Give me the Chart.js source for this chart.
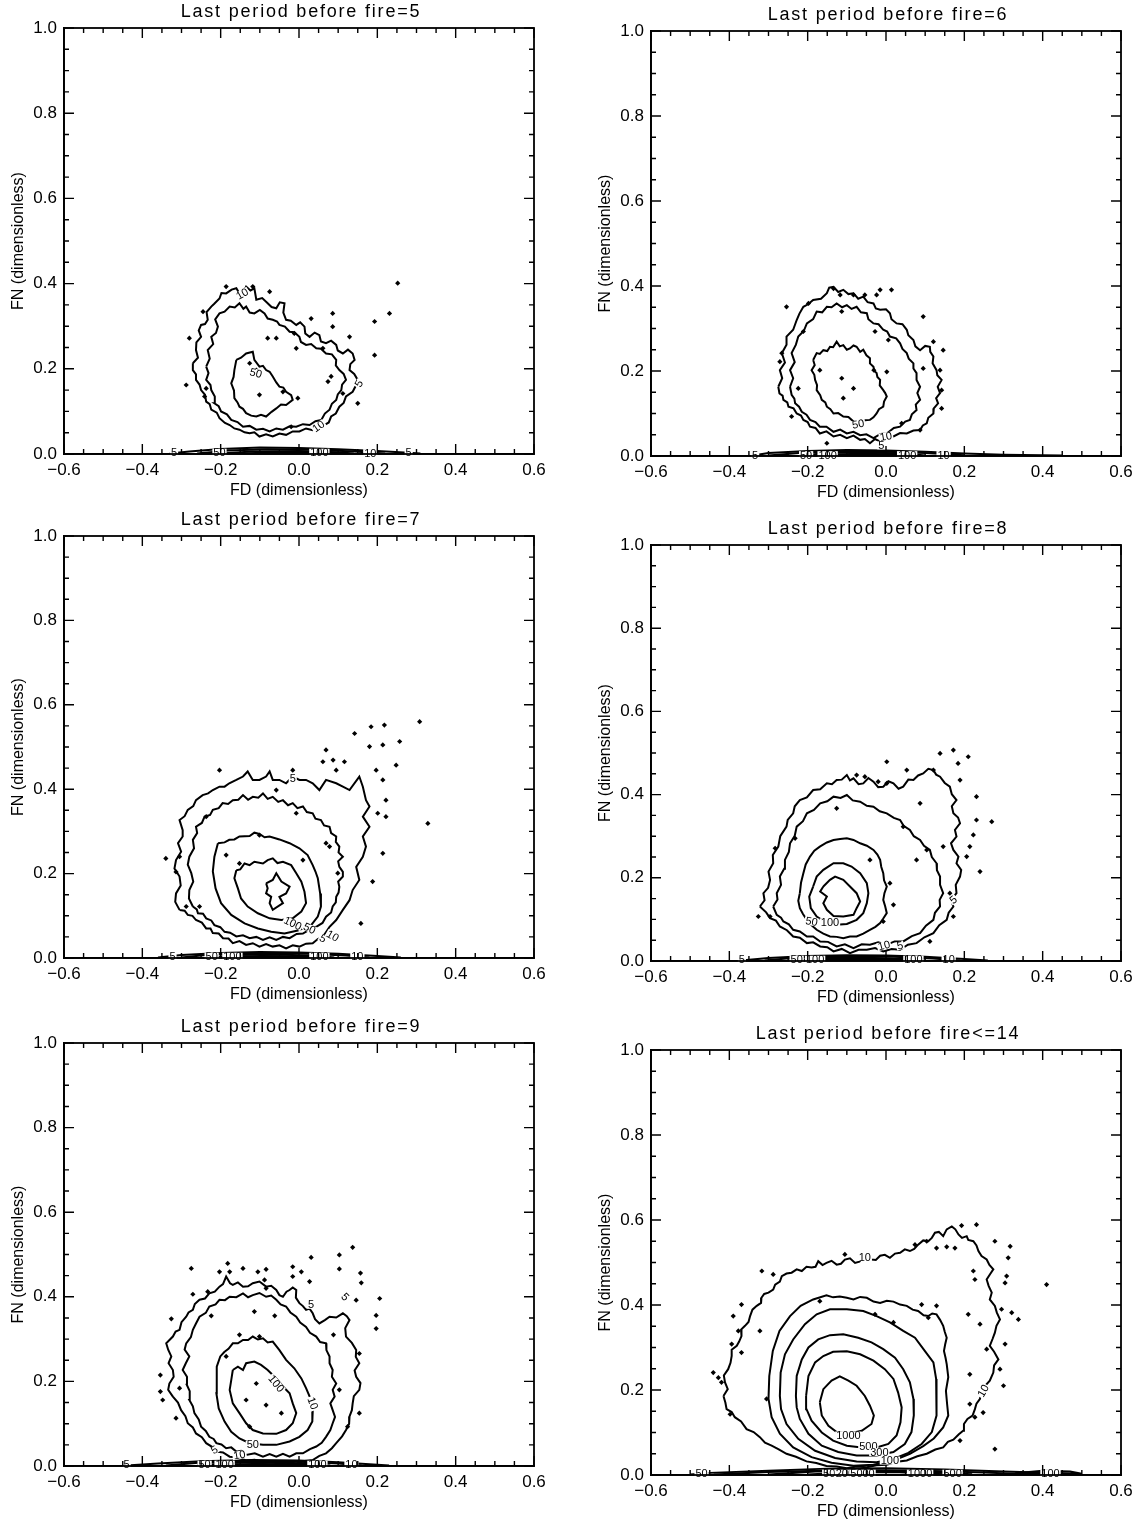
<!DOCTYPE html>
<html>
<head>
<meta charset="utf-8">
<script src="https://cdn.jsdelivr.net/npm/chart.js@4.4.1/dist/chart.umd.min.js"></script>
<style>
  html, body { margin: 0; padding: 0; background: #fff; }
  #page { position: relative; width: 1138px; height: 1520px; overflow: hidden; }
  #page canvas { position: absolute; }
</style>
</head>
<body>
<div id="page"></div>
<script>
//
// Contour plots of FN vs FD, one panel per "last period before fire"
//

// Axis ticks shared by all panels
const xMajor = [-0.6, -0.4, -0.2, 0.0, 0.2, 0.4, 0.6];
const xMinor = [-0.55, -0.5, -0.45, -0.35, -0.3, -0.25, -0.15, -0.1, -0.05, 0.05, 0.1, 0.15, 0.25, 0.3, 0.35, 0.45, 0.5, 0.55];
const yMajor = [0.0, 0.2, 0.4, 0.6, 0.8, 1.0];
const yMinor = [0.05, 0.1, 0.15, 0.25, 0.3, 0.35, 0.45, 0.5, 0.55, 0.65, 0.7, 0.75, 0.85, 0.9, 0.95];

const titles = ['Last period before fire=5', 'Last period before fire=6', 'Last period before fire=7',
                'Last period before fire=8', 'Last period before fire=9', 'Last period before fire<=14'];

// ---------- Panel 1 : fire=5
const p1c5 = [[-0.271,0.213],[-0.258,0.226],[-0.263,0.244],[-0.262,0.262],[-0.250,0.275],[-0.256,0.290],[-0.250,0.303],[-0.240,0.305],[-0.233,0.315],[-0.236,0.333],[-0.224,0.346],[-0.217,0.352],[-0.203,0.365],[-0.198,0.378],[-0.186,0.377],[-0.172,0.386],[-0.160,0.389],[-0.152,0.377],[-0.142,0.380],[-0.135,0.393],[-0.124,0.384],[-0.114,0.389],[-0.109,0.362],[-0.094,0.366],[-0.080,0.354],[-0.070,0.345],[-0.058,0.342],[-0.049,0.356],[-0.037,0.354],[-0.040,0.332],[-0.033,0.315],[-0.021,0.313],[-0.007,0.303],[0.003,0.309],[0.014,0.299],[0.016,0.283],[0.027,0.275],[0.040,0.285],[0.052,0.279],[0.056,0.264],[0.069,0.260],[0.082,0.266],[0.095,0.256],[0.099,0.243],[0.112,0.236],[0.125,0.245],[0.137,0.236],[0.142,0.221],[0.131,0.211],[0.129,0.197],[0.141,0.188],[0.150,0.174],[0.145,0.160],[0.137,0.146],[0.120,0.135],[0.114,0.120],[0.103,0.111],[0.094,0.095],[0.082,0.088],[0.076,0.074],[0.065,0.068],[0.050,0.066],[0.035,0.056],[0.018,0.060],[0.001,0.053],[-0.016,0.053],[-0.033,0.045],[-0.050,0.048],[-0.067,0.041],[-0.084,0.046],[-0.101,0.041],[-0.114,0.051],[-0.126,0.049],[-0.139,0.051],[-0.152,0.057],[-0.165,0.060],[-0.177,0.068],[-0.189,0.073],[-0.203,0.084],[-0.210,0.097],[-0.224,0.104],[-0.228,0.117],[-0.237,0.123],[-0.240,0.139],[-0.250,0.150],[-0.254,0.163],[-0.263,0.174],[-0.263,0.187],[-0.271,0.197]];
const p1c10 = [[-0.237,0.205],[-0.228,0.224],[-0.233,0.244],[-0.219,0.258],[-0.224,0.275],[-0.212,0.284],[-0.207,0.299],[-0.214,0.316],[-0.203,0.330],[-0.190,0.334],[-0.177,0.346],[-0.164,0.344],[-0.152,0.354],[-0.142,0.341],[-0.135,0.346],[-0.126,0.332],[-0.114,0.330],[-0.100,0.338],[-0.088,0.330],[-0.080,0.318],[-0.067,0.315],[-0.056,0.311],[-0.050,0.303],[-0.036,0.299],[-0.024,0.287],[-0.012,0.286],[0.001,0.275],[0.005,0.263],[0.018,0.256],[0.031,0.258],[0.044,0.248],[0.056,0.247],[0.069,0.236],[0.084,0.234],[0.095,0.221],[0.094,0.208],[0.103,0.197],[0.114,0.188],[0.120,0.174],[0.110,0.163],[0.108,0.150],[0.099,0.140],[0.095,0.127],[0.084,0.118],[0.078,0.104],[0.066,0.095],[0.057,0.080],[0.042,0.077],[0.027,0.068],[0.010,0.070],[-0.007,0.064],[-0.024,0.065],[-0.041,0.057],[-0.058,0.060],[-0.075,0.053],[-0.092,0.059],[-0.109,0.057],[-0.126,0.066],[-0.143,0.064],[-0.157,0.075],[-0.173,0.080],[-0.184,0.093],[-0.199,0.100],[-0.205,0.112],[-0.216,0.119],[-0.215,0.135],[-0.224,0.150],[-0.226,0.162],[-0.237,0.174],[-0.231,0.190]];
const p1c50 = [[-0.160,0.221],[-0.148,0.226],[-0.135,0.236],[-0.118,0.240],[-0.114,0.221],[-0.101,0.205],[-0.092,0.207],[-0.084,0.197],[-0.075,0.193],[-0.067,0.182],[-0.058,0.168],[-0.050,0.158],[-0.040,0.156],[-0.033,0.146],[-0.020,0.138],[-0.016,0.127],[-0.033,0.115],[-0.046,0.116],[-0.058,0.107],[-0.070,0.099],[-0.084,0.088],[-0.097,0.092],[-0.109,0.088],[-0.122,0.090],[-0.135,0.096],[-0.143,0.106],[-0.152,0.111],[-0.157,0.121],[-0.165,0.131],[-0.166,0.149],[-0.173,0.166],[-0.167,0.181],[-0.165,0.197]];
const p1Band = [
  [[-0.33,0.001],[-0.28,0.006],[-0.20,0.012],[-0.10,0.015],[0.0,0.014],[0.10,0.011],[0.20,0.007],[0.28,0.003],[0.31,0.001]],
  [[-0.26,0.001],[-0.18,0.008],[-0.08,0.011],[0.04,0.010],[0.14,0.006],[0.22,0.001]],
  [[-0.20,0.001],[-0.12,0.006],[0.0,0.007],[0.10,0.004],[0.14,0.001]],
  [[-0.15,0.001],[-0.05,0.004],[0.06,0.003],[0.09,0.001]]
];
const p1Dots = [[-0.186,0.393],[-0.118,0.393],[-0.245,0.334],[-0.280,0.272],[-0.288,0.162],[-0.237,0.154],[-0.241,0.135],[-0.080,0.272],[-0.058,0.272],[-0.012,0.283],[-0.007,0.248],[0.031,0.318],[0.086,0.330],[0.061,0.248],[0.082,0.182],[0.074,0.170],[0.150,0.119],[-0.101,0.139],[-0.003,0.131],[-0.020,0.064],[0.193,0.311],[0.231,0.330],[0.252,0.401],[0.193,0.232],[0.129,0.275],[0.086,0.299],[-0.075,0.381],[-0.126,0.213],[-0.109,0.197],[-0.041,0.146],[0.112,0.142]];
const p1Labels = [['50',-0.11,0.19,-15],['10',0.05,0.065,35],['5',0.153,0.165,60],['10',-0.145,0.376,30],
  ['5',-0.319,0.003,0],['50',-0.203,0.003,0],['100',0.052,0.003,0],['10',0.182,0.002,0],['5',0.28,0.003,0]];

// ---------- Panel 2 : fire=6
const p2c5 = [[-0.275,0.163],[-0.265,0.183],[-0.271,0.202],[-0.258,0.220],[-0.266,0.242],[-0.254,0.262],[-0.254,0.281],[-0.237,0.297],[-0.228,0.320],[-0.221,0.335],[-0.211,0.351],[-0.199,0.357],[-0.186,0.367],[-0.166,0.370],[-0.151,0.383],[-0.145,0.396],[-0.134,0.398],[-0.122,0.386],[-0.109,0.391],[-0.096,0.381],[-0.083,0.383],[-0.071,0.370],[-0.058,0.375],[-0.047,0.362],[-0.032,0.359],[-0.026,0.347],[-0.015,0.344],[0.000,0.345],[0.010,0.336],[0.014,0.322],[0.027,0.312],[0.042,0.310],[0.053,0.297],[0.057,0.284],[0.070,0.273],[0.075,0.258],[0.087,0.249],[0.100,0.259],[0.112,0.257],[0.113,0.245],[0.121,0.234],[0.119,0.218],[0.129,0.202],[0.131,0.190],[0.142,0.179],[0.132,0.163],[0.138,0.148],[0.128,0.136],[0.133,0.124],[0.122,0.112],[0.121,0.100],[0.108,0.090],[0.104,0.077],[0.094,0.072],[0.087,0.061],[0.070,0.060],[0.053,0.053],[0.036,0.054],[0.019,0.046],[0.002,0.045],[-0.015,0.034],[-0.028,0.040],[-0.041,0.030],[-0.054,0.040],[-0.066,0.038],[-0.083,0.048],[-0.100,0.042],[-0.117,0.050],[-0.134,0.046],[-0.152,0.058],[-0.169,0.053],[-0.180,0.066],[-0.194,0.069],[-0.200,0.080],[-0.211,0.085],[-0.217,0.095],[-0.228,0.100],[-0.236,0.112],[-0.249,0.116],[-0.252,0.126],[-0.262,0.132],[-0.264,0.142],[-0.272,0.147]];
const p2c10 = [[-0.245,0.163],[-0.237,0.183],[-0.245,0.202],[-0.233,0.221],[-0.241,0.242],[-0.230,0.262],[-0.224,0.281],[-0.210,0.294],[-0.202,0.312],[-0.186,0.322],[-0.177,0.340],[-0.163,0.338],[-0.151,0.351],[-0.139,0.350],[-0.126,0.359],[-0.112,0.350],[-0.100,0.355],[-0.088,0.346],[-0.075,0.351],[-0.064,0.338],[-0.049,0.336],[-0.045,0.322],[-0.032,0.312],[-0.019,0.310],[-0.007,0.297],[0.003,0.293],[0.010,0.281],[0.026,0.277],[0.036,0.265],[0.042,0.252],[0.053,0.242],[0.058,0.229],[0.070,0.218],[0.070,0.206],[0.078,0.195],[0.078,0.179],[0.087,0.163],[0.080,0.148],[0.087,0.132],[0.076,0.121],[0.078,0.108],[0.066,0.098],[0.061,0.085],[0.049,0.081],[0.036,0.069],[0.020,0.066],[0.002,0.053],[-0.014,0.052],[-0.032,0.042],[-0.050,0.051],[-0.066,0.049],[-0.083,0.057],[-0.100,0.053],[-0.117,0.062],[-0.134,0.057],[-0.152,0.069],[-0.169,0.069],[-0.180,0.080],[-0.194,0.085],[-0.203,0.097],[-0.215,0.104],[-0.222,0.116],[-0.232,0.124],[-0.234,0.135],[-0.241,0.144]];
const p2c50 = [[-0.186,0.226],[-0.177,0.242],[-0.169,0.240],[-0.160,0.249],[-0.150,0.247],[-0.143,0.257],[-0.135,0.256],[-0.126,0.269],[-0.118,0.258],[-0.109,0.261],[-0.100,0.250],[-0.092,0.253],[-0.083,0.260],[-0.075,0.257],[-0.066,0.245],[-0.058,0.250],[-0.050,0.237],[-0.041,0.230],[-0.041,0.218],[-0.032,0.210],[-0.030,0.200],[-0.024,0.195],[-0.022,0.186],[-0.015,0.179],[-0.016,0.166],[-0.007,0.155],[-0.002,0.148],[0.002,0.140],[-0.005,0.128],[-0.007,0.116],[-0.018,0.110],[-0.024,0.100],[-0.032,0.091],[-0.041,0.085],[-0.054,0.084],[-0.066,0.077],[-0.083,0.081],[-0.096,0.092],[-0.109,0.093],[-0.122,0.101],[-0.134,0.100],[-0.142,0.110],[-0.151,0.116],[-0.155,0.126],[-0.164,0.132],[-0.168,0.143],[-0.177,0.155],[-0.176,0.167],[-0.181,0.179],[-0.183,0.191],[-0.190,0.202],[-0.182,0.214]];
const p2Band = [
  [[-0.34,0.001],[-0.30,0.007],[-0.20,0.012],[-0.10,0.014],[0.0,0.013],[0.10,0.010],[0.20,0.006],[0.30,0.003],[0.45,0.001]],
  [[-0.30,0.001],[-0.20,0.009],[-0.10,0.011],[0.0,0.010],[0.10,0.007],[0.20,0.002]],
  [[-0.22,0.001],[-0.15,0.007],[-0.05,0.008],[0.05,0.006],[0.10,0.001]],
  [[-0.16,0.001],[-0.08,0.005],[0.02,0.004],[0.06,0.001]]
];
const p2Dots = [[-0.254,0.351],[-0.015,0.391],[0.014,0.391],[-0.024,0.379],[-0.054,0.379],[-0.117,0.379],[-0.134,0.394],[-0.083,0.379],[-0.198,0.359],[0.095,0.328],[0.121,0.269],[0.146,0.249],[0.138,0.202],[0.142,0.155],[0.142,0.112],[-0.266,0.242],[-0.271,0.222],[-0.241,0.093],[-0.224,0.159],[-0.169,0.202],[-0.113,0.183],[0.002,0.198],[-0.031,0.202],[-0.083,0.159],[-0.109,0.136],[0.040,0.077],[0.087,0.061],[-0.151,0.030],[-0.113,0.340],[-0.028,0.293],[0.006,0.273],[-0.211,0.293],[0.095,0.206]];
const p2Labels = [['50',-0.071,0.075,10],['10',0.0,0.046,10],['5',-0.012,0.025,0],
  ['5',-0.334,0.002,0],['50',-0.204,0.002,0],['100',-0.149,0.002,0],['100',0.054,0.002,0],['10',0.147,0.002,0]];

// ---------- Panel 3 : fire=7
const p3c5 = [[-0.305,0.114],[-0.316,0.133],[-0.314,0.153],[-0.302,0.172],[-0.305,0.193],[-0.318,0.212],[-0.314,0.232],[-0.301,0.252],[-0.309,0.272],[-0.297,0.288],[-0.297,0.303],[-0.305,0.327],[-0.292,0.336],[-0.284,0.351],[-0.270,0.360],[-0.263,0.374],[-0.246,0.386],[-0.232,0.390],[-0.220,0.398],[-0.203,0.406],[-0.190,0.406],[-0.178,0.414],[-0.160,0.422],[-0.143,0.430],[-0.131,0.442],[-0.118,0.422],[-0.101,0.422],[-0.084,0.430],[-0.075,0.442],[-0.067,0.422],[-0.050,0.422],[-0.033,0.414],[-0.016,0.430],[0.001,0.422],[0.018,0.422],[0.035,0.414],[0.052,0.398],[0.069,0.422],[0.095,0.414],[0.112,0.406],[0.129,0.398],[0.154,0.430],[0.163,0.406],[0.171,0.374],[0.180,0.359],[0.163,0.335],[0.180,0.311],[0.163,0.288],[0.171,0.264],[0.163,0.240],[0.146,0.216],[0.154,0.185],[0.137,0.161],[0.129,0.137],[0.112,0.114],[0.095,0.090],[0.078,0.074],[0.061,0.050],[0.048,0.045],[0.035,0.035],[0.018,0.034],[0.001,0.027],[-0.016,0.030],[-0.033,0.023],[-0.050,0.030],[-0.067,0.027],[-0.084,0.033],[-0.101,0.027],[-0.118,0.035],[-0.135,0.031],[-0.152,0.040],[-0.169,0.035],[-0.180,0.046],[-0.194,0.047],[-0.205,0.058],[-0.220,0.059],[-0.226,0.070],[-0.237,0.070],[-0.248,0.084],[-0.263,0.090],[-0.272,0.100],[-0.284,0.102],[-0.292,0.112]];
const p3c10 = [[-0.271,0.122],[-0.281,0.141],[-0.280,0.161],[-0.270,0.181],[-0.275,0.201],[-0.284,0.221],[-0.280,0.240],[-0.268,0.260],[-0.271,0.280],[-0.260,0.296],[-0.263,0.311],[-0.248,0.320],[-0.241,0.335],[-0.227,0.339],[-0.220,0.351],[-0.205,0.355],[-0.195,0.367],[-0.181,0.365],[-0.169,0.374],[-0.155,0.375],[-0.143,0.386],[-0.130,0.375],[-0.118,0.382],[-0.104,0.380],[-0.092,0.390],[-0.080,0.377],[-0.067,0.382],[-0.053,0.370],[-0.041,0.374],[-0.028,0.362],[-0.016,0.367],[-0.004,0.355],[0.010,0.359],[0.020,0.346],[0.035,0.343],[0.042,0.330],[0.056,0.327],[0.064,0.314],[0.078,0.311],[0.082,0.296],[0.095,0.288],[0.094,0.275],[0.103,0.264],[0.101,0.250],[0.112,0.240],[0.100,0.229],[0.103,0.216],[0.112,0.204],[0.112,0.193],[0.100,0.181],[0.103,0.169],[0.101,0.155],[0.095,0.145],[0.094,0.132],[0.086,0.122],[0.082,0.108],[0.069,0.098],[0.060,0.083],[0.044,0.074],[0.028,0.068],[0.010,0.058],[-0.006,0.057],[-0.024,0.047],[-0.041,0.050],[-0.058,0.043],[-0.075,0.049],[-0.092,0.043],[-0.109,0.050],[-0.126,0.047],[-0.143,0.054],[-0.160,0.051],[-0.176,0.060],[-0.190,0.062],[-0.201,0.073],[-0.216,0.078],[-0.224,0.089],[-0.237,0.094],[-0.245,0.105],[-0.258,0.106],[-0.261,0.115]];
const p3c50 = [[-0.207,0.272],[-0.190,0.274],[-0.178,0.280],[-0.165,0.281],[-0.152,0.288],[-0.126,0.289],[-0.114,0.297],[-0.101,0.294],[-0.088,0.286],[-0.075,0.288],[-0.050,0.281],[-0.024,0.272],[0.001,0.260],[0.022,0.244],[0.035,0.220],[0.042,0.205],[0.048,0.189],[0.054,0.153],[0.056,0.122],[0.048,0.098],[0.031,0.078],[-0.003,0.065],[-0.037,0.058],[-0.071,0.062],[-0.105,0.070],[-0.139,0.082],[-0.173,0.102],[-0.199,0.130],[-0.213,0.165],[-0.220,0.205],[-0.216,0.240]];
const p3c100 = [[-0.160,0.208],[-0.150,0.210],[-0.139,0.224],[-0.126,0.220],[-0.114,0.228],[-0.092,0.224],[-0.080,0.232],[-0.067,0.236],[-0.055,0.225],[-0.041,0.228],[-0.020,0.220],[-0.007,0.201],[0.006,0.181],[0.014,0.157],[0.018,0.130],[0.006,0.110],[-0.016,0.094],[-0.045,0.090],[-0.075,0.094],[-0.105,0.106],[-0.131,0.122],[-0.148,0.141],[-0.156,0.165],[-0.165,0.189]];
const p3cCore = [[-0.084,0.177],[-0.067,0.185],[-0.058,0.201],[-0.045,0.181],[-0.024,0.169],[-0.033,0.153],[-0.050,0.145],[-0.041,0.130],[-0.067,0.114],[-0.075,0.130],[-0.071,0.145],[-0.084,0.153],[-0.080,0.165]];
const p3Band = [
  [[-0.36,0.001],[-0.30,0.007],[-0.20,0.012],[-0.10,0.014],[0.0,0.013],[0.10,0.010],[0.20,0.005],[0.26,0.001]],
  [[-0.30,0.001],[-0.22,0.009],[-0.10,0.011],[0.02,0.010],[0.12,0.006],[0.18,0.001]],
  [[-0.24,0.001],[-0.15,0.007],[-0.05,0.008],[0.05,0.005],[0.09,0.001]],
  [[-0.18,0.001],[-0.10,0.005],[0.0,0.004],[0.06,0.001]]
];
const p3Dots = [[-0.203,0.445],[-0.016,0.445],[0.218,0.552],[0.308,0.560],[0.184,0.548],[0.257,0.513],[0.142,0.532],[0.180,0.501],[0.069,0.493],[0.061,0.465],[0.087,0.469],[0.095,0.445],[0.116,0.465],[0.214,0.505],[0.197,0.445],[0.248,0.457],[0.214,0.422],[0.222,0.374],[0.201,0.343],[0.222,0.335],[0.329,0.319],[0.214,0.248],[0.188,0.181],[-0.237,0.335],[-0.007,0.343],[-0.058,0.398],[0.069,0.272],[0.078,0.264],[0.099,0.201],[-0.101,0.291],[-0.186,0.244],[-0.152,0.224],[-0.305,0.240],[-0.314,0.204],[-0.288,0.122],[-0.254,0.122],[0.158,0.082],[0.010,0.232],[-0.340,0.236]];
const p3Labels = [['100',-0.016,0.082,-25],['50',0.027,0.070,-25],['5',0.061,0.046,-30],['10',0.086,0.052,-30],['5',-0.016,0.426,0],
  ['5',-0.323,0.003,0],['50',-0.223,0.003,0],['100',-0.170,0.003,0],['100',0.052,0.003,0],['10',0.149,0.003,0]];

// ---------- Panel 4 : fire=8
const p4c5 = [[-0.322,0.131],[-0.310,0.146],[-0.313,0.163],[-0.301,0.176],[-0.296,0.195],[-0.300,0.215],[-0.288,0.235],[-0.289,0.255],[-0.275,0.275],[-0.270,0.300],[-0.254,0.323],[-0.251,0.339],[-0.237,0.355],[-0.233,0.372],[-0.220,0.387],[-0.202,0.393],[-0.186,0.411],[-0.168,0.413],[-0.151,0.427],[-0.138,0.425],[-0.126,0.435],[-0.113,0.436],[-0.100,0.447],[-0.092,0.434],[-0.083,0.439],[-0.070,0.425],[-0.058,0.427],[-0.045,0.440],[-0.032,0.431],[-0.020,0.418],[-0.007,0.419],[0.006,0.432],[0.019,0.427],[0.032,0.414],[0.044,0.419],[0.057,0.436],[0.070,0.435],[0.082,0.446],[0.095,0.451],[0.108,0.462],[0.121,0.459],[0.128,0.448],[0.138,0.443],[0.150,0.428],[0.163,0.419],[0.168,0.401],[0.180,0.387],[0.168,0.372],[0.172,0.355],[0.184,0.345],[0.189,0.331],[0.176,0.315],[0.180,0.299],[0.166,0.283],[0.172,0.267],[0.185,0.251],[0.180,0.235],[0.192,0.219],[0.189,0.203],[0.178,0.183],[0.180,0.163],[0.166,0.147],[0.172,0.131],[0.160,0.116],[0.155,0.099],[0.136,0.086],[0.121,0.067],[0.098,0.057],[0.078,0.043],[0.056,0.039],[0.036,0.027],[0.014,0.029],[-0.007,0.023],[-0.028,0.031],[-0.049,0.027],[-0.070,0.027],[-0.092,0.019],[-0.113,0.029],[-0.134,0.023],[-0.150,0.033],[-0.168,0.035],[-0.186,0.045],[-0.202,0.043],[-0.220,0.056],[-0.237,0.059],[-0.253,0.074],[-0.271,0.083],[-0.281,0.097],[-0.296,0.103],[-0.306,0.117]];
const p4c10 = [[-0.288,0.131],[-0.277,0.148],[-0.279,0.163],[-0.268,0.183],[-0.271,0.203],[-0.260,0.222],[-0.258,0.243],[-0.248,0.262],[-0.245,0.283],[-0.233,0.301],[-0.228,0.323],[-0.212,0.336],[-0.202,0.355],[-0.184,0.363],[-0.168,0.379],[-0.150,0.384],[-0.134,0.395],[-0.116,0.392],[-0.100,0.399],[-0.085,0.386],[-0.066,0.383],[-0.049,0.373],[-0.032,0.371],[-0.016,0.360],[0.002,0.355],[0.020,0.344],[0.036,0.339],[0.045,0.325],[0.061,0.315],[0.071,0.300],[0.087,0.291],[0.097,0.277],[0.112,0.267],[0.117,0.250],[0.129,0.235],[0.130,0.218],[0.138,0.203],[0.138,0.183],[0.146,0.163],[0.137,0.147],[0.138,0.131],[0.125,0.116],[0.121,0.099],[0.102,0.085],[0.087,0.067],[0.066,0.060],[0.044,0.047],[0.022,0.047],[0.002,0.039],[-0.020,0.045],[-0.041,0.039],[-0.062,0.040],[-0.083,0.031],[-0.105,0.040],[-0.126,0.035],[-0.148,0.046],[-0.168,0.047],[-0.186,0.059],[-0.202,0.059],[-0.220,0.071],[-0.237,0.075],[-0.248,0.088],[-0.262,0.095],[-0.268,0.104],[-0.279,0.111]];
const p4c20 = [[-0.220,0.163],[-0.217,0.188],[-0.211,0.211],[-0.205,0.232],[-0.194,0.251],[-0.183,0.265],[-0.169,0.275],[-0.151,0.285],[-0.134,0.291],[-0.117,0.293],[-0.100,0.295],[-0.083,0.291],[-0.066,0.283],[-0.049,0.277],[-0.032,0.267],[-0.022,0.256],[-0.015,0.243],[-0.012,0.226],[-0.007,0.211],[-0.005,0.194],[0.002,0.179],[-0.004,0.163],[-0.007,0.147],[-0.002,0.131],[0.002,0.115],[-0.007,0.102],[-0.015,0.091],[-0.027,0.082],[-0.041,0.075],[-0.058,0.066],[-0.075,0.059],[-0.092,0.059],[-0.109,0.055],[-0.126,0.058],[-0.143,0.059],[-0.160,0.066],[-0.177,0.075],[-0.190,0.086],[-0.202,0.099],[-0.212,0.113],[-0.220,0.127],[-0.224,0.145]];
const p4c50 = [[-0.186,0.179],[-0.177,0.203],[-0.160,0.219],[-0.134,0.235],[-0.109,0.235],[-0.088,0.227],[-0.066,0.211],[-0.049,0.187],[-0.045,0.163],[-0.049,0.139],[-0.058,0.115],[-0.075,0.099],[-0.100,0.089],[-0.126,0.087],[-0.151,0.091],[-0.177,0.107],[-0.192,0.127],[-0.196,0.155]];
const p4c100 = [[-0.160,0.179],[-0.143,0.195],[-0.130,0.203],[-0.109,0.195],[-0.092,0.179],[-0.075,0.163],[-0.066,0.143],[-0.075,0.127],[-0.083,0.111],[-0.109,0.107],[-0.134,0.108],[-0.151,0.123],[-0.160,0.139],[-0.151,0.155],[-0.168,0.167]];
const p4Band = [
  [[-0.37,0.001],[-0.30,0.007],[-0.20,0.012],[-0.10,0.014],[0.0,0.013],[0.10,0.010],[0.20,0.005],[0.26,0.001]],
  [[-0.31,0.001],[-0.22,0.009],[-0.10,0.011],[0.02,0.010],[0.12,0.006],[0.19,0.001]],
  [[-0.25,0.001],[-0.16,0.007],[-0.05,0.008],[0.05,0.005],[0.10,0.001]],
  [[-0.19,0.001],[-0.10,0.005],[0.0,0.004],[0.07,0.001]]
];
const p4Dots = [[0.138,0.499],[0.172,0.507],[0.002,0.479],[0.053,0.459],[0.121,0.459],[0.184,0.475],[0.210,0.491],[0.189,0.435],[0.231,0.395],[0.231,0.339],[0.270,0.335],[0.240,0.215],[0.214,0.275],[0.206,0.251],[-0.075,0.447],[-0.054,0.443],[-0.020,0.431],[0.002,0.427],[-0.126,0.367],[-0.232,0.295],[-0.283,0.271],[-0.041,0.243],[0.010,0.187],[0.019,0.135],[-0.007,0.095],[-0.326,0.107],[-0.296,0.107],[0.087,0.379],[0.044,0.323],[0.104,0.267],[0.078,0.243],[0.146,0.275],[0.163,0.163],[0.172,0.107],[0.112,0.047],[0.223,0.303]];
const p4Labels = [['50',-0.190,0.095,-10],['100',-0.143,0.093,0],['10',-0.005,0.037,15],['5',0.036,0.037,15],['5',0.172,0.147,40],
  ['5',-0.368,0.003,0],['50',-0.228,0.003,0],['100',-0.181,0.003,0],['100',0.070,0.003,0],['10',0.160,0.003,0]];

// ---------- Panel 5 : fire=9
const p5c5 = [[-0.322,0.164],[-0.334,0.180],[-0.331,0.195],[-0.320,0.211],[-0.322,0.227],[-0.333,0.243],[-0.326,0.259],[-0.334,0.275],[-0.339,0.290],[-0.322,0.306],[-0.315,0.318],[-0.305,0.322],[-0.300,0.340],[-0.288,0.353],[-0.282,0.363],[-0.271,0.369],[-0.266,0.383],[-0.254,0.393],[-0.240,0.396],[-0.229,0.408],[-0.215,0.412],[-0.203,0.424],[-0.194,0.430],[-0.186,0.448],[-0.176,0.432],[-0.169,0.428],[-0.156,0.434],[-0.143,0.424],[-0.130,0.425],[-0.118,0.432],[-0.101,0.436],[-0.084,0.424],[-0.071,0.426],[-0.058,0.416],[-0.050,0.404],[-0.041,0.400],[-0.032,0.412],[-0.024,0.416],[-0.016,0.422],[-0.007,0.416],[-0.008,0.398],[0.001,0.385],[0.010,0.378],[0.018,0.369],[0.027,0.372],[0.035,0.361],[0.041,0.347],[0.052,0.337],[0.066,0.345],[0.078,0.353],[0.095,0.351],[0.112,0.361],[0.122,0.354],[0.129,0.345],[0.118,0.326],[0.120,0.306],[0.135,0.291],[0.146,0.274],[0.145,0.258],[0.154,0.243],[0.142,0.226],[0.146,0.211],[0.157,0.196],[0.154,0.180],[0.140,0.165],[0.137,0.148],[0.135,0.132],[0.129,0.117],[0.128,0.100],[0.120,0.085],[0.110,0.070],[0.095,0.054],[0.084,0.042],[0.069,0.030],[0.052,0.024],[0.035,0.014],[0.014,0.012],[-0.007,0.006],[-0.028,0.009],[-0.050,0.005],[-0.071,0.010],[-0.092,0.008],[-0.113,0.015],[-0.135,0.013],[-0.156,0.020],[-0.177,0.022],[-0.194,0.032],[-0.211,0.034],[-0.223,0.046],[-0.237,0.054],[-0.248,0.068],[-0.263,0.077],[-0.271,0.091],[-0.284,0.101],[-0.290,0.118],[-0.301,0.132],[-0.309,0.150]];
const p5c10 = [[-0.288,0.195],[-0.286,0.211],[-0.297,0.227],[-0.289,0.243],[-0.280,0.259],[-0.292,0.275],[-0.288,0.290],[-0.276,0.305],[-0.271,0.322],[-0.263,0.337],[-0.254,0.353],[-0.238,0.362],[-0.229,0.377],[-0.213,0.382],[-0.203,0.393],[-0.189,0.392],[-0.177,0.400],[-0.160,0.399],[-0.143,0.408],[-0.130,0.399],[-0.118,0.404],[-0.101,0.409],[-0.084,0.400],[-0.071,0.403],[-0.058,0.393],[-0.047,0.382],[-0.033,0.377],[-0.022,0.363],[-0.007,0.353],[0.003,0.339],[0.018,0.329],[0.028,0.315],[0.044,0.306],[0.054,0.293],[0.069,0.290],[0.070,0.274],[0.078,0.259],[0.078,0.243],[0.086,0.227],[0.084,0.211],[0.095,0.195],[0.086,0.180],[0.091,0.164],[0.080,0.148],[0.086,0.132],[0.092,0.116],[0.086,0.101],[0.080,0.085],[0.069,0.069],[0.058,0.055],[0.044,0.046],[0.028,0.040],[0.010,0.030],[-0.007,0.030],[-0.024,0.022],[-0.041,0.029],[-0.058,0.022],[-0.075,0.028],[-0.092,0.022],[-0.113,0.030],[-0.135,0.026],[-0.148,0.036],[-0.160,0.034],[-0.173,0.044],[-0.186,0.042],[-0.198,0.051],[-0.211,0.054],[-0.218,0.064],[-0.229,0.069],[-0.238,0.083],[-0.250,0.093],[-0.256,0.110],[-0.267,0.125],[-0.271,0.141],[-0.280,0.156],[-0.279,0.177]];
const p5c50 = [[-0.190,0.270],[-0.180,0.277],[-0.169,0.290],[-0.156,0.290],[-0.143,0.298],[-0.130,0.298],[-0.118,0.306],[-0.105,0.299],[-0.092,0.302],[-0.080,0.292],[-0.067,0.294],[-0.050,0.274],[-0.033,0.251],[-0.012,0.231],[0.006,0.207],[0.018,0.184],[0.031,0.156],[0.035,0.129],[0.034,0.105],[0.022,0.085],[0.001,0.069],[-0.024,0.058],[-0.058,0.050],[-0.092,0.050],[-0.126,0.054],[-0.152,0.065],[-0.173,0.081],[-0.190,0.105],[-0.205,0.136],[-0.211,0.172],[-0.210,0.203],[-0.210,0.235],[-0.201,0.259]];
const p5c100 = [[-0.169,0.227],[-0.156,0.235],[-0.143,0.227],[-0.135,0.243],[-0.114,0.247],[-0.097,0.239],[-0.080,0.227],[-0.058,0.207],[-0.041,0.188],[-0.024,0.172],[-0.016,0.148],[-0.007,0.125],[-0.016,0.101],[-0.033,0.085],[-0.058,0.076],[-0.092,0.077],[-0.118,0.085],[-0.135,0.101],[-0.152,0.125],[-0.169,0.148],[-0.177,0.180],[-0.173,0.203]];
const p5Band = [
  [[-0.44,0.001],[-0.36,0.006],[-0.25,0.011],[-0.12,0.014],[0.0,0.013],[0.10,0.009],[0.18,0.004],[0.23,0.001]],
  [[-0.34,0.001],[-0.25,0.008],[-0.12,0.011],[0.0,0.010],[0.10,0.006],[0.16,0.001]],
  [[-0.26,0.001],[-0.18,0.007],[-0.06,0.008],[0.04,0.005],[0.08,0.001]],
  [[-0.20,0.001],[-0.12,0.005],[0.0,0.004],[0.05,0.001]]
];
const p5Dots = [[-0.275,0.467],[-0.203,0.459],[-0.182,0.479],[-0.177,0.459],[-0.143,0.467],[-0.105,0.459],[-0.084,0.465],[-0.016,0.471],[0.006,0.459],[0.031,0.493],[0.103,0.499],[0.137,0.517],[0.103,0.466],[0.157,0.456],[0.159,0.433],[0.206,0.396],[0.197,0.356],[0.197,0.325],[-0.016,0.448],[0.027,0.436],[-0.088,0.440],[-0.084,0.420],[-0.062,0.355],[-0.114,0.365],[-0.224,0.355],[-0.326,0.348],[-0.271,0.406],[-0.233,0.412],[-0.152,0.310],[-0.101,0.306],[-0.186,0.259],[-0.354,0.215],[-0.354,0.176],[-0.348,0.156],[-0.314,0.113],[-0.305,0.184],[0.088,0.310],[0.146,0.392],[0.154,0.266],[0.103,0.180],[0.124,0.093],[0.154,0.125],[-0.084,0.144],[-0.045,0.125],[-0.126,0.093],[-0.109,0.195],[-0.135,0.156]];
const p5Labels = [['100',-0.058,0.195,-50],['50',-0.118,0.050,0],['10',-0.152,0.026,10],['5',-0.216,0.038,30],['5',0.031,0.381,0],['5',0.118,0.400,-45],['10',0.035,0.148,-70],
  ['5',-0.440,0.003,0],['50',-0.241,0.003,0],['100',-0.190,0.003,0],['100',0.047,0.003,0],['10',0.134,0.003,0]];

// ---------- Panel 6 : fire<=14
const p6c10 = [[-0.415,0.186],[-0.410,0.170],[-0.407,0.155],[-0.394,0.148],[-0.386,0.136],[-0.370,0.126],[-0.356,0.108],[-0.338,0.101],[-0.322,0.089],[-0.309,0.076],[-0.292,0.069],[-0.275,0.061],[-0.254,0.050],[-0.230,0.043],[-0.203,0.032],[-0.178,0.028],[-0.152,0.021],[-0.126,0.020],[-0.100,0.016],[-0.075,0.020],[-0.049,0.018],[-0.024,0.023],[0.002,0.024],[0.028,0.031],[0.053,0.034],[0.080,0.044],[0.104,0.050],[0.126,0.060],[0.146,0.065],[0.158,0.078],[0.172,0.083],[0.186,0.096],[0.197,0.104],[0.199,0.120],[0.208,0.132],[0.221,0.140],[0.227,0.155],[0.231,0.168],[0.240,0.179],[0.243,0.196],[0.253,0.210],[0.265,0.222],[0.274,0.241],[0.276,0.258],[0.287,0.272],[0.276,0.290],[0.265,0.304],[0.272,0.320],[0.278,0.335],[0.282,0.351],[0.291,0.366],[0.283,0.382],[0.278,0.398],[0.265,0.413],[0.270,0.429],[0.262,0.445],[0.257,0.460],[0.266,0.473],[0.274,0.484],[0.264,0.494],[0.257,0.507],[0.244,0.515],[0.236,0.527],[0.231,0.540],[0.223,0.550],[0.210,0.553],[0.206,0.562],[0.194,0.558],[0.185,0.566],[0.177,0.578],[0.168,0.585],[0.155,0.578],[0.146,0.562],[0.135,0.572],[0.125,0.570],[0.117,0.558],[0.108,0.550],[0.095,0.552],[0.082,0.542],[0.072,0.532],[0.061,0.527],[0.048,0.531],[0.036,0.523],[0.023,0.521],[0.010,0.511],[-0.003,0.518],[-0.015,0.516],[-0.026,0.506],[-0.037,0.507],[-0.047,0.517],[-0.058,0.513],[-0.068,0.502],[-0.079,0.499],[-0.092,0.510],[-0.105,0.507],[-0.115,0.497],[-0.126,0.495],[-0.139,0.504],[-0.152,0.499],[-0.162,0.494],[-0.173,0.503],[-0.180,0.490],[-0.190,0.488],[-0.203,0.490],[-0.215,0.480],[-0.228,0.484],[-0.241,0.476],[-0.254,0.474],[-0.266,0.468],[-0.271,0.455],[-0.283,0.448],[-0.288,0.436],[-0.300,0.429],[-0.311,0.426],[-0.318,0.417],[-0.319,0.405],[-0.330,0.398],[-0.341,0.389],[-0.347,0.374],[-0.351,0.360],[-0.360,0.351],[-0.370,0.342],[-0.369,0.327],[-0.375,0.314],[-0.381,0.304],[-0.394,0.295],[-0.394,0.280],[-0.397,0.264],[-0.403,0.249],[-0.414,0.234],[-0.411,0.218],[-0.404,0.202]];
const p6c100 = [[-0.300,0.179],[-0.298,0.233],[-0.289,0.292],[-0.272,0.339],[-0.245,0.374],[-0.218,0.398],[-0.186,0.413],[-0.152,0.423],[-0.135,0.418],[-0.118,0.420],[-0.100,0.417],[-0.083,0.413],[-0.066,0.419],[-0.049,0.417],[-0.032,0.408],[-0.015,0.405],[0.002,0.410],[0.019,0.408],[0.036,0.401],[0.053,0.398],[0.068,0.389],[0.082,0.386],[0.096,0.376],[0.108,0.374],[0.118,0.380],[0.129,0.378],[0.138,0.365],[0.146,0.351],[0.150,0.337],[0.155,0.323],[0.151,0.307],[0.148,0.292],[0.152,0.276],[0.155,0.261],[0.159,0.230],[0.153,0.198],[0.156,0.167],[0.159,0.140],[0.146,0.112],[0.122,0.086],[0.095,0.068],[0.061,0.050],[0.019,0.034],[-0.032,0.024],[-0.083,0.022],[-0.139,0.029],[-0.190,0.042],[-0.237,0.065],[-0.271,0.097],[-0.292,0.136]];
const p6c200 = [[-0.271,0.186],[-0.269,0.241],[-0.258,0.284],[-0.237,0.319],[-0.207,0.355],[-0.177,0.378],[-0.143,0.390],[-0.100,0.390],[-0.058,0.386],[-0.024,0.374],[0.010,0.359],[0.044,0.339],[0.074,0.323],[0.099,0.292],[0.121,0.265],[0.128,0.226],[0.129,0.179],[0.129,0.140],[0.117,0.101],[0.091,0.073],[0.057,0.052],[0.019,0.038],[-0.024,0.030],[-0.075,0.032],[-0.130,0.040],[-0.181,0.057],[-0.224,0.085],[-0.254,0.120],[-0.268,0.155]];
const p6c300 = [[-0.230,0.186],[-0.228,0.233],[-0.215,0.272],[-0.198,0.300],[-0.173,0.319],[-0.143,0.329],[-0.109,0.331],[-0.071,0.323],[-0.037,0.312],[-0.007,0.296],[0.023,0.276],[0.044,0.249],[0.061,0.218],[0.070,0.179],[0.071,0.140],[0.065,0.101],[0.048,0.073],[0.019,0.054],[-0.024,0.046],[-0.075,0.046],[-0.122,0.054],[-0.164,0.069],[-0.198,0.097],[-0.220,0.132],[-0.228,0.159]];
const p6c500 = [[-0.204,0.186],[-0.198,0.233],[-0.181,0.265],[-0.160,0.280],[-0.135,0.290],[-0.100,0.291],[-0.066,0.284],[-0.032,0.269],[-0.003,0.249],[0.019,0.226],[0.031,0.194],[0.040,0.159],[0.037,0.124],[0.027,0.093],[0.006,0.073],[-0.024,0.065],[-0.062,0.065],[-0.100,0.069],[-0.135,0.081],[-0.164,0.100],[-0.190,0.128],[-0.203,0.155]];
const p6c1000 = [[-0.169,0.171],[-0.160,0.202],[-0.139,0.222],[-0.118,0.232],[-0.096,0.222],[-0.075,0.210],[-0.054,0.186],[-0.041,0.163],[-0.031,0.140],[-0.037,0.120],[-0.062,0.104],[-0.096,0.097],[-0.126,0.101],[-0.147,0.116],[-0.164,0.140]];
const p6Band = [
  [[-0.50,0.001],[-0.45,0.005],[-0.30,0.010],[-0.15,0.015],[0.0,0.016],[0.15,0.013],[0.30,0.008],[0.45,0.004],[0.50,0.001]],
  [[-0.44,0.001],[-0.30,0.007],[-0.10,0.012],[0.10,0.010],[0.25,0.006],[0.36,0.002]],
  [[-0.30,0.001],[-0.18,0.008],[-0.05,0.010],[0.10,0.007],[0.22,0.002]],
  [[-0.20,0.001],[-0.10,0.006],[0.02,0.007],[0.12,0.003],[0.16,0.001]],
  [[0.33,0.004],[0.40,0.010],[0.47,0.008],[0.50,0.003],[0.40,0.003],[0.33,0.004]]
];
const p6Dots = [[-0.441,0.241],[-0.428,0.229],[-0.420,0.218],[-0.398,0.143],[-0.390,0.374],[-0.369,0.401],[-0.377,0.339],[-0.394,0.308],[-0.369,0.288],[-0.322,0.339],[-0.317,0.480],[-0.288,0.472],[-0.105,0.519],[0.074,0.542],[0.104,0.550],[0.129,0.534],[0.193,0.587],[0.231,0.589],[0.155,0.537],[0.176,0.534],[0.278,0.550],[0.317,0.538],[0.312,0.511],[0.304,0.452],[0.308,0.468],[0.223,0.480],[0.227,0.460],[0.295,0.390],[0.321,0.382],[0.338,0.366],[0.410,0.448],[0.240,0.355],[0.257,0.296],[0.304,0.308],[0.291,0.249],[0.300,0.210],[0.210,0.378],[0.214,0.237],[0.214,0.167],[0.227,0.136],[0.248,0.147],[0.189,0.081],[0.278,0.061],[0.129,0.398],[0.091,0.401],[0.108,0.370],[-0.028,0.378],[0.019,0.359],[-0.169,0.409],[-0.305,0.179]];
const p6Labels = [['10',-0.054,0.513,0],['10',0.248,0.198,60],['1000',-0.096,0.093,0],['500',-0.045,0.068,0],['300',-0.017,0.054,0],['100',0.010,0.034,0],
  ['50',-0.471,0.003,0],['50',-0.145,0.003,0],['200',-0.105,0.003,0],['5000',-0.060,0.003,0],['1000',0.087,0.003,0],['500',0.170,0.003,0],['100',0.420,0.003,0]];

// Plot box of each panel on the page (pixels)
const boxes = [
  { left: 64, top: 28, w: 470, h: 426 },
  { left: 651, top: 31, w: 470, h: 425 },
  { left: 64, top: 536, w: 470, h: 422 },
  { left: 651, top: 545, w: 470, h: 416 },
  { left: 64, top: 1043, w: 470, h: 423 },
  { left: 651, top: 1050, w: 470, h: 425 }
];
const MARGIN = { left: 64, right: 24, top: 30, bottom: 48 };
const FONT = 'Liberation Sans';

const panels = [
  { contours: [p1c5, p1c10, p1c50], band: p1Band, dots: p1Dots, labels: p1Labels },
  { contours: [p2c5, p2c10, p2c50], band: p2Band, dots: p2Dots, labels: p2Labels },
  { contours: [p3c5, p3c10, p3c50, p3c100, p3cCore], band: p3Band, dots: p3Dots, labels: p3Labels },
  { contours: [p4c5, p4c10, p4c20, p4c50, p4c100], band: p4Band, dots: p4Dots, labels: p4Labels },
  { contours: [p5c5, p5c10, p5c50, p5c100], band: p5Band, dots: p5Dots, labels: p5Labels },
  { contours: [p6c10, p6c100, p6c200, p6c300, p6c500, p6c1000], band: p6Band, dots: p6Dots, labels: p6Labels }
];

function fmt(v) {
  return (v < -1e-9 ? '\u2212' : '') + Math.abs(v).toFixed(1);
}

function toXY(arr) {
  return arr.map(p => ({ x: p[0], y: p[1] }));
}

//
// Box, inward ticks on all four sides, and the panel title
//
const framePlugin = {
  id: 'frame',
  afterDraw(chart, args, opts) {
    const { ctx, chartArea: a, scales: { x, y } } = chart;
    ctx.save();
    ctx.strokeStyle = '#000';
    ctx.lineWidth = 1.8;
    ctx.strokeRect(a.left, a.top, a.right - a.left, a.bottom - a.top);

    ctx.lineWidth = 1.4;
    ctx.beginPath();
    const xt = (vals, len) => vals.forEach(v => {
      const px = x.getPixelForValue(v);
      ctx.moveTo(px, a.bottom); ctx.lineTo(px, a.bottom - len);
      ctx.moveTo(px, a.top); ctx.lineTo(px, a.top + len);
    });
    const yt = (vals, len) => vals.forEach(v => {
      const py = y.getPixelForValue(v);
      ctx.moveTo(a.left, py); ctx.lineTo(a.left + len, py);
      ctx.moveTo(a.right, py); ctx.lineTo(a.right - len, py);
    });
    xt(xMajor, 10); xt(xMinor, 5);
    yt(yMajor, 10); yt(yMinor, 5);
    ctx.stroke();

    // title
    ctx.fillStyle = '#000';
    ctx.font = '18px "' + FONT + '"';
    ctx.letterSpacing = '1.8px';
    ctx.textAlign = 'center';
    ctx.textBaseline = 'middle';
    ctx.fillText(opts.title, (a.left + a.right) / 2 + 2, a.top - 16);
    ctx.letterSpacing = '0px';
    ctx.restore();
  }
};

//
// Contour level labels, drawn on a white patch that cuts the line
//
const labelPlugin = {
  id: 'clabels',
  afterDatasetsDraw(chart, args, opts) {
    const { ctx, scales: { x, y } } = chart;
    ctx.save();
    ctx.font = '11px "' + FONT + '"';
    ctx.textAlign = 'center';
    ctx.textBaseline = 'middle';
    opts.items.forEach(([text, vx, vy, ang]) => {
      const px = x.getPixelForValue(vx), py = y.getPixelForValue(vy);
      const w = ctx.measureText(text).width;
      ctx.save();
      ctx.translate(px, py);
      ctx.rotate(-ang * Math.PI / 180);
      ctx.fillStyle = '#fff';
      ctx.fillRect(-w / 2 - 1, -4, w + 2, 8);
      ctx.fillStyle = '#000';
      ctx.fillText(text, 0, 0.5);
      ctx.restore();
    });
    ctx.restore();
  }
};

function makePanel(i) {
  const box = boxes[i], p = panels[i];
  const canvas = document.createElement('canvas');
  const W = MARGIN.left + box.w + MARGIN.right;
  const H = MARGIN.top + box.h + MARGIN.bottom;
  canvas.width = W;
  canvas.height = H;
  canvas.style.width = W + 'px';
  canvas.style.height = H + 'px';
  canvas.style.left = (box.left - MARGIN.left) + 'px';
  canvas.style.top = (box.top - MARGIN.top) + 'px';
  document.getElementById('page').appendChild(canvas);

  const line = (pts) => ({
    data: toXY(pts), showLine: true, borderColor: '#000', borderWidth: 2,
    pointRadius: 0, fill: false, tension: 0
  });

  // closed contour loops
  const datasets = p.contours.map(c => line(c.concat([c[0]])));
  // flattened contours hugging FN = 0
  p.band.forEach(b => datasets.push(line(b)));
  // single-cell islands
  datasets.push({
    data: toXY(p.dots), showLine: false, pointStyle: 'rectRot', pointRadius: 2.6,
    backgroundColor: '#000', borderColor: '#000', borderWidth: 0
  });

  new Chart(canvas, {
    type: 'scatter',
    data: { datasets: datasets },
    options: {
      responsive: false,
      animation: false,
      devicePixelRatio: 1,
      layout: { padding: { left: 0, right: MARGIN.right, top: MARGIN.top, bottom: 0 } },
      plugins: {
        legend: { display: false },
        tooltip: { enabled: false },
        frame: { title: titles[i] },
        clabels: { items: p.labels }
      },
      scales: {
        x: {
          type: 'linear', min: -0.6, max: 0.6,
          afterBuildTicks: s => { s.ticks = xMajor.map(v => ({ value: v })); },
          afterFit: s => { s.height = MARGIN.bottom; },
          grid: { display: false, drawTicks: false },
          border: { display: true, color: '#000', width: 1.8 },
          ticks: { padding: 6, color: '#000', maxRotation: 0, autoSkip: false,
                   font: { family: FONT, size: 17 }, callback: v => fmt(v) },
          title: { display: true, text: 'FD (dimensionless)', color: '#000',
                   font: { family: FONT, size: 16 }, padding: { top: 0, bottom: 2 } }
        },
        y: {
          type: 'linear', min: 0, max: 1.0,
          afterBuildTicks: s => { s.ticks = yMajor.map(v => ({ value: v })); },
          afterFit: s => { s.width = MARGIN.left; },
          grid: { display: false, drawTicks: false },
          border: { display: true, color: '#000', width: 1.8 },
          ticks: { padding: 7, color: '#000', autoSkip: false,
                   font: { family: FONT, size: 17 }, callback: v => fmt(v) },
          title: { display: true, text: 'FN (dimensionless)', color: '#000',
                   font: { family: FONT, size: 16 }, padding: { top: 9, bottom: 0 } }
        }
      }
    },
    plugins: [labelPlugin, framePlugin]
  });
}

// START HERE
for (let i = 0; i < panels.length; i++) {
  makePanel(i);
}
</script>
</body>
</html>
